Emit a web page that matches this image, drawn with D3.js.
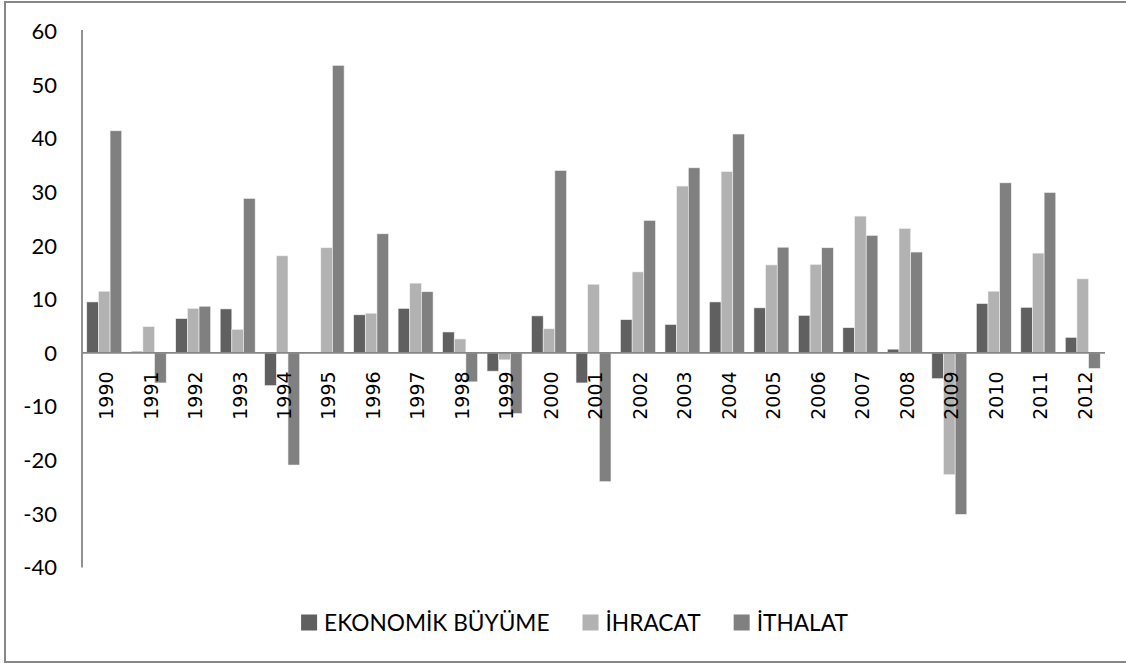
<!DOCTYPE html>
<html>
<head>
<meta charset="utf-8">
<script src="https://cdn.jsdelivr.net/npm/d3@7"></script>
<style>
  html, body { margin: 0; padding: 0; background: #fff; }
  svg { display: block; }
</style>
</head>
<body>
<svg id="chart" width="1126" height="664"></svg>
<script>
const years = ["1990","1991","1992","1993","1994","1995","1996","1997","1998","1999","2000","2001","2002","2003","2004","2005","2006","2007","2008","2009","2010","2011","2012"];
const seriesNames = ["EKONOMİK BÜYÜME", "İHRACAT", "İTHALAT"];
const buyume  = [9.5, 0.3, 6.4, 8.2, -6.1, 0, 7.1, 8.3, 3.9, -3.4, 6.9, -5.6, 6.2, 5.3, 9.5, 8.4, 7.0, 4.7, 0.7, -4.8, 9.2, 8.5, 2.9];
const ihracat = [11.5, 4.9, 8.3, 4.4, 18.1, 19.6, 7.4, 13.0, 2.6, -1.3, 4.5, 12.8, 15.1, 31.1, 33.8, 16.4, 16.5, 25.5, 23.2, -22.7, 11.5, 18.6, 13.8];
const ithalat = [41.4, -5.6, 8.7, 28.8, -20.9, 53.6, 22.2, 11.4, -5.4, -11.3, 34.0, -24.0, 24.7, 34.5, 40.8, 19.7, 19.6, 21.9, 18.8, -30.1, 31.7, 29.9, -2.9];
const yTicks = [-40, -30, -20, -10, 0, 10, 20, 30, 40, 50, 60];
const colors = ["#606060", "#b2b2b2", "#808080"];

const seriesValues = [buyume, ihracat, ithalat];
const svg = d3.select("#chart");

// outer frame
svg.append("rect")
  .attr("x", 5).attr("y", 2)
  .attr("width", 1130).attr("height", 660)
  .attr("fill", "none").attr("stroke", "#878787").attr("stroke-width", 2);

const plotLeft = 82, plotRight = 1105, plotTop = 31, plotBottom = 567.5;

const y = d3.scaleLinear().domain([-40, 60]).range([plotBottom, plotTop]);
const x0 = d3.scaleBand().domain(years).range([plotLeft, plotRight]).padding(0);
const x1 = d3.scaleBand().domain(d3.range(3))
  .range([x0.bandwidth() * 0.1068, x0.bandwidth() * (1 - 0.1068)]).padding(0);

// bars
const groups = svg.append("g").selectAll("g")
  .data(years).join("g")
  .attr("transform", d => `translate(${x0(d)},0)`);

groups.selectAll("rect")
  .data((d, i) => seriesValues.map((s, k) => ({k, v: s[i]})))
  .join("rect")
  .attr("x", d => x1(d.k))
  .attr("width", x1.bandwidth())
  .attr("y", d => y(Math.max(0, d.v)))
  .attr("height", d => Math.abs(y(d.v) - y(0)))
  .attr("fill", d => colors[d.k])
  .attr("stroke", "#f2f2f2")
  .attr("stroke-width", 0.6);

// y axis line
svg.append("line")
  .attr("x1", plotLeft).attr("x2", plotLeft)
  .attr("y1", y(60) - 1).attr("y2", y(-40))
  .attr("stroke", "#868686").attr("stroke-width", 1.8);

// zero line (category axis)
svg.append("line")
  .attr("x1", plotLeft).attr("x2", plotRight)
  .attr("y1", y(0)).attr("y2", y(0))
  .attr("stroke", "#868686").attr("stroke-width", 1.8);

// y tick labels
svg.append("g").selectAll("text")
  .data(yTicks).join("text")
  .attr("x", 57)
  .attr("y", d => y(d))
  .attr("dy", "0.36em")
  .attr("text-anchor", "end")
  .attr("font-family", "Lato, 'Open Sans', sans-serif")
  .attr("font-size", 22)
  .attr("fill", "#000")
  .text(d => d);

// x tick labels (rotated)
svg.append("g").selectAll("text")
  .data(years).join("text")
  .attr("transform", d => `translate(${x0(d) + x0.bandwidth() / 2 + 2},${y(0) + 18.5}) rotate(-90)`)
  .attr("dy", "0.36em")
  .attr("text-anchor", "end")
  .attr("font-family", "'DejaVu Sans', sans-serif")
  .attr("font-size", 19)
  .attr("fill", "#000")
  .text(d => d);

// legend
const legend = svg.append("g");
const items = legend.selectAll("g").data(seriesNames).join("g");
items.append("rect")
  .attr("width", 16).attr("height", 16)
  .attr("y", -8)
  .attr("fill", (d, i) => colors[i]);
items.append("text")
  .attr("x", 23)
  .attr("dy", "0.36em")
  .attr("font-family", "Lato, 'Open Sans', sans-serif")
  .attr("font-size", 22.7)
  .attr("fill", "#000")
  .text(d => d);

let widths = [];
items.each(function() {
  widths.push(23 + this.querySelector("text").getComputedTextLength());
});
const gap = 33;
const total = d3.sum(widths) + gap * (widths.length - 1);
let cx = 574.5 - total / 2;
items.attr("transform", (d, i) => {
  const xx = cx;
  cx += widths[i] + gap;
  return `translate(${xx},622.5)`;
});
</script>
</body>
</html>
